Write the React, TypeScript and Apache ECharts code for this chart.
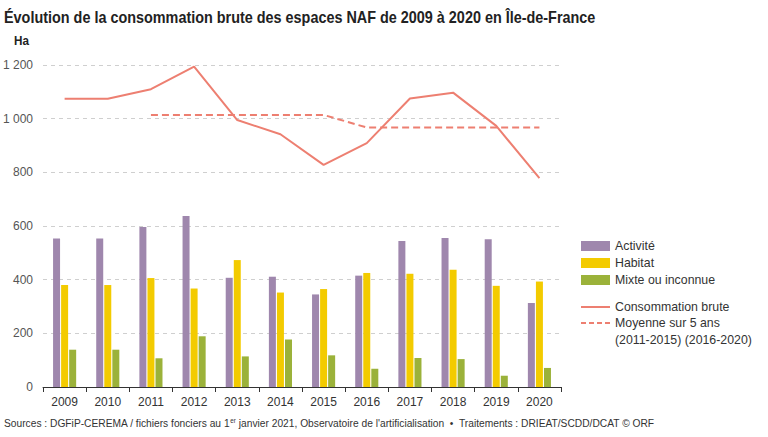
import React, { useEffect, useRef } from "react";
import * as echarts from "echarts";

const years = ["2009", "2010", "2011", "2012", "2013", "2014", "2015", "2016", "2017", "2018", "2019", "2020"];
const activite = [553, 553, 596, 637, 407, 411, 345, 415, 544, 555, 551, 313];
const habitat = [380, 380, 406, 367, 473, 352, 365, 425, 422, 437, 377, 393];
const mixte = [139, 139, 107, 189, 114, 177, 118, 68, 108, 104, 42, 71];
const consommation = [1074, 1074, 1110, 1194, 995, 942, 828, 909, 1075, 1097, 973, 778];
const moyenne = [null, null, 1014, 1014, 1014, 1014, 1014, 967, 967, 967, 967, 967];

const FONT = "'Liberation Sans', Arial, sans-serif";
const C_ACT = "#9f87ad";
const C_HAB = "#f3cb00";
const C_MIX = "#9bb23a";
const C_LINE = "#ed7f71";

export default function App() {
  const ref = useRef<HTMLDivElement>(null);
  useEffect(() => {
    if (!ref.current) return;
    const chart = echarts.init(ref.current, undefined, { renderer: "svg" });
    const legendX = 581;
    const txt = (x: number, y: number, text: string, sx: number, extra: any = {}) => ({
      type: "text",
      x,
      y,
      scaleX: sx,
      style: { text, fill: "#333", font: `13px ${FONT}`, textVerticalAlign: "middle", ...extra },
    });
    chart.setOption({
      animation: false,
      textStyle: { fontFamily: FONT },
      grid: { left: 41, right: 207, top: 65, bottom: 50 },
      xAxis: {
        type: "category",
        data: years,
        axisLine: { lineStyle: { color: "#333", width: 1 } },
        axisTick: { show: true, length: 5, lineStyle: { color: "#333" } },
        axisLabel: { color: "#333", fontSize: 12, margin: 9, fontFamily: FONT },
      },
      yAxis: {
        type: "value",
        min: 0,
        max: 1200,
        interval: 200,
        axisLine: { show: false },
        axisTick: { show: false },
        axisLabel: {
          color: "#555",
          fontSize: 12,
          margin: 10,
          fontFamily: FONT,
          formatter: (v: number) => (v >= 1000 ? `${Math.floor(v / 1000)} ${String(v % 1000).padStart(3, "0")}` : String(v)),
        },
        splitLine: { show: true, lineStyle: { color: "#cfcfcf", type: [4, 4], width: 1 } },
      },
      series: [
        { name: "Activité", type: "bar", data: activite, barWidth: 7, barGap: "15%", itemStyle: { color: C_ACT } },
        { name: "Habitat", type: "bar", data: habitat, barWidth: 7, barGap: "15%", itemStyle: { color: C_HAB } },
        { name: "Mixte ou inconnue", type: "bar", data: mixte, barWidth: 7, barGap: "15%", itemStyle: { color: C_MIX } },
        {
          name: "Consommation brute",
          type: "line",
          data: consommation,
          symbol: "none",
          lineStyle: { color: C_LINE, width: 2 },
        },
        {
          name: "Moyenne sur 5 ans",
          type: "line",
          data: moyenne,
          symbol: "none",
          lineStyle: { color: C_LINE, width: 2, type: [7, 4] },
        },
      ],
      graphic: [
        txt(4, 17, "Évolution de la consommation brute des espaces NAF de 2009 à 2020 en Île-de-France", 0.9, {
          font: `bold 16px ${FONT}`,
          fill: "#222",
        }),
        txt(14, 41, "Ha", 0.9, { font: `bold 13px ${FONT}`, fill: "#222" }),
        { type: "rect", shape: { x: legendX, y: 241, width: 29, height: 10 }, style: { fill: C_ACT } },
        txt(615, 246, "Activité", 0.95),
        { type: "rect", shape: { x: legendX, y: 258, width: 29, height: 10 }, style: { fill: C_HAB } },
        txt(615, 263, "Habitat", 0.95),
        { type: "rect", shape: { x: legendX, y: 275, width: 29, height: 10 }, style: { fill: C_MIX } },
        txt(615, 280, "Mixte ou inconnue", 0.95),
        { type: "line", shape: { x1: legendX, y1: 307, x2: legendX + 29, y2: 307 }, style: { stroke: C_LINE, lineWidth: 2 } },
        txt(615, 307, "Consommation brute", 0.95),
        {
          type: "line",
          shape: { x1: legendX, y1: 323, x2: legendX + 29, y2: 323 },
          style: { stroke: C_LINE, lineWidth: 2, lineDash: [5, 3] },
        },
        txt(615, 323, "Moyenne sur 5 ans", 0.95),
        txt(615, 340, "(2011-2015) (2016-2020)", 0.95),
        {
          type: "text",
          x: 4,
          y: 423,
          scaleX: 0.89,
          style: {
            text: "Sources : DGFiP-CEREMA / fichiers fonciers au 1{sup|er} janvier 2021, Observatoire de l'artificialisation  •  Traitements : DRIEAT/SCDD/DCAT © ORF",
            fill: "#333",
            font: `11.5px ${FONT}`,
            textVerticalAlign: "middle",
            rich: { sup: { fontSize: 7, verticalAlign: "top", padding: [0, 0, 6, 0], fill: "#333", fontFamily: FONT } },
          },
        },
      ],
    });
    return () => chart.dispose();
  }, []);
  return <div ref={ref} style={{ position: "fixed", left: 0, top: 0, width: 768, height: 437, background: "#fff" }} />;
}
